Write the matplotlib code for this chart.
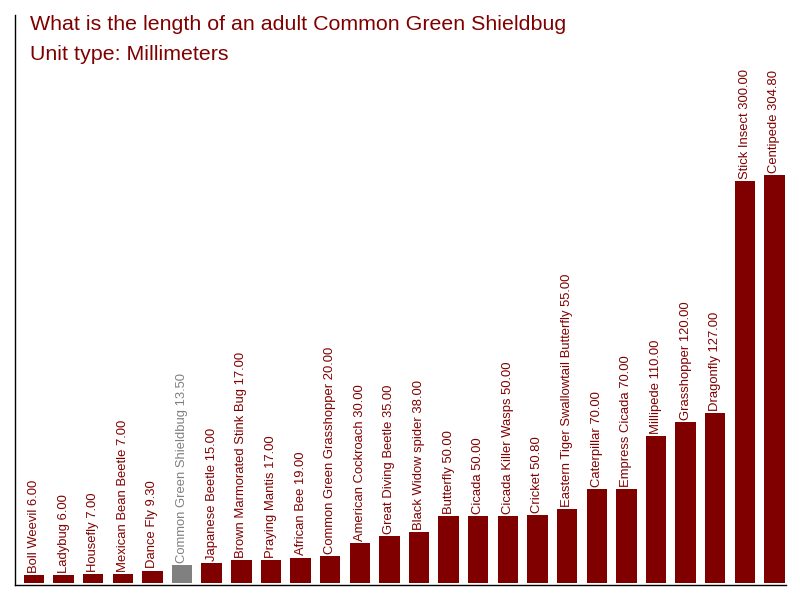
import matplotlib
matplotlib.use('Agg')
import matplotlib.pyplot as plt

plt.rcParams['font.family'] = ['Liberation Sans', 'DejaVu Sans']

# chart data
insects = ['Boll Weevil', 'Ladybug', 'Housefly', 'Mexican Bean Beetle', 'Dance Fly',
           'Common Green Shieldbug', 'Japanese Beetle', 'Brown Marmorated Stink Bug',
           'Praying Mantis', 'African Bee', 'Common Green Grasshopper', 'American Cockroach',
           'Great Diving Beetle', 'Black Widow spider', 'Butterfly', 'Cicada',
           'Cicada Killer Wasps', 'Cricket', 'Eastern Tiger Swallowtail Butterfly',
           'Caterpillar', 'Empress Cicada', 'Millipede', 'Grasshopper', 'Dragonfly',
           'Stick Insect', 'Centipede']
lengths_mm = [6.00, 6.00, 7.00, 7.00, 9.30, 13.50, 15.00, 17.00, 17.00, 19.00, 20.00,
              30.00, 35.00, 38.00, 50.00, 50.00, 50.00, 50.80, 55.00, 70.00, 70.00,
              110.00, 120.00, 127.00, 300.00, 304.80]
highlight = 'Common Green Shieldbug'

title = 'What is the length of an adult Common Green Shieldbug'
subtitle = 'Unit type: Millimeters'

red = '#800000'
grey = '#808080'

fig = plt.figure(figsize=(8, 6), dpi=100)
ax = fig.add_axes([15 / 800, 15 / 600, 771 / 800, 570 / 600])

colors = [grey if name == highlight else red for name in insects]
x = list(range(len(insects)))
ax.bar(x, lengths_mm, width=0.69, color=colors, bottom=0)

# value labels sit vertically on top of each bar
for i, (name, val) in enumerate(zip(insects, lengths_mm)):
    ax.annotate(f'{name} {val:.2f}', xy=(i, val), xytext=(0, 1.5),
                textcoords='offset points', rotation=90, ha='center', va='bottom',
                fontsize=9.4, color=colors[i])

ax.set_xlim(-0.64, 25.39)
ax.set_ylim(-1.5, 423.9)
ax.set_xticks([])
ax.set_yticks([])
for side in ['top', 'right']:
    ax.spines[side].set_visible(False)
ax.spines['left'].set_linewidth(1)
ax.spines['bottom'].set_linewidth(1)

fig.text(30 / 800, 1 - 30.5 / 600, title, fontsize=15.4, color=red, va='baseline')
fig.text(30 / 800, 1 - 60 / 600, subtitle, fontsize=15.4, color=red, va='baseline')

fig.savefig('out.png', dpi=100)
